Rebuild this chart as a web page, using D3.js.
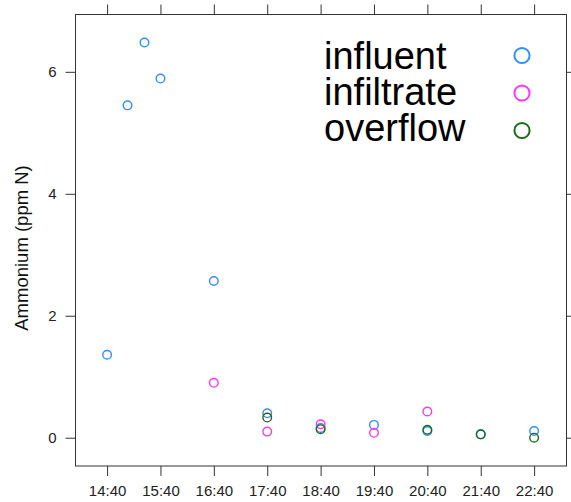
<!DOCTYPE html>
<html>
<head>
<meta charset="utf-8">
<script src="https://cdn.jsdelivr.net/npm/d3@7"></script>
<style>
  html, body { margin: 0; padding: 0; background: #fff; }
  svg { display: block; font-family: "Liberation Sans", Arial, Helvetica, sans-serif; }
</style>
</head>
<body>
<svg id="chart" width="571" height="502"></svg>
<script>
// ---- data ----
const seriesNames = ["influent", "infiltrate", "overflow"];
const seriesColors = ["#2f8fff", "#ff33ff", "#1a6b1a"];

const influentTimes  = ["14:40", "15:03", "15:22", "15:40", "16:40", "17:40", "18:40", "19:40", "20:40", "21:40", "22:40"];
const influentValues = [1.36, 5.45, 6.48, 5.89, 2.57, 0.40, 0.16, 0.21, 0.11, 0.055, 0.11];

const infiltrateTimes  = ["16:40", "17:40", "18:40", "19:40", "20:40"];
const infiltrateValues = [0.90, 0.10, 0.22, 0.08, 0.43];

const overflowTimes  = ["17:40", "18:40", "20:40", "21:40", "22:40"];
const overflowValues = [0.33, 0.14, 0.13, 0.055, 0.0];

const xTickLabels = ["14:40", "15:40", "16:40", "17:40", "18:40", "19:40", "20:40", "21:40", "22:40"];
const yTicks = [0, 2, 4, 6];
const yLabel = "Ammonium (ppm N)";

// ---- helpers ----
const toMin = s => { const [h, m] = s.split(":").map(Number); return h * 60 + m; };

const svg = d3.select("#chart");
const panel = { left: 75.5, right: 566.5, top: 14.5, bottom: 466 };

const x = d3.scaleLinear().domain([toMin("14:04") + 0.5, toMin("23:16") + 0.4]).range([panel.left, panel.right]);
const y = d3.scaleLinear().domain([-0.464, 6.94]).range([panel.bottom, panel.top]);

const axisCol = "#333";
const tickLen = 10;

// frame
svg.append("rect")
  .attr("x", panel.left).attr("y", panel.top)
  .attr("width", panel.right - panel.left).attr("height", panel.bottom - panel.top)
  .attr("fill", "none").attr("stroke", axisCol).attr("stroke-width", 1);

const xt = xTickLabels.map(toMin);

const gBottom = svg.append("g").attr("transform", `translate(0,${panel.bottom})`)
  .call(d3.axisBottom(x).tickValues(xt).tickFormat((d, i) => xTickLabels[i]).tickSizeInner(tickLen).tickSizeOuter(0).tickPadding(9));
const gTop = svg.append("g").attr("transform", `translate(0,${panel.top})`)
  .call(d3.axisTop(x).tickValues(xt).tickFormat("").tickSizeInner(tickLen).tickSizeOuter(0));
const gLeft = svg.append("g").attr("transform", `translate(${panel.left},0)`)
  .call(d3.axisLeft(y).tickValues(yTicks).tickFormat(d3.format("d")).tickSizeInner(tickLen).tickSizeOuter(0).tickPadding(9));
const gRight = svg.append("g").attr("transform", `translate(${panel.right},0)`)
  .call(d3.axisRight(y).tickValues(yTicks).tickFormat("").tickSizeInner(tickLen).tickSizeOuter(0));

[gBottom, gTop, gLeft, gRight].forEach(g => {
  g.select(".domain").remove();
  g.selectAll(".tick line").attr("stroke", axisCol).attr("stroke-width", 1);
  g.selectAll(".tick text").attr("fill", "#222").style("font-size", "15px")
    .style("font-family", "'Liberation Sans', Arial, Helvetica, sans-serif");
});

// y label
svg.append("text")
  .attr("transform", `translate(28,248) rotate(-90)`)
  .attr("text-anchor", "middle")
  .attr("fill", "#111")
  .style("font-size", "18.5px")
  .text(yLabel);

// points
const series = [
  { times: influentTimes, values: influentValues },
  { times: infiltrateTimes, values: infiltrateValues },
  { times: overflowTimes, values: overflowValues }
];

series.forEach((s, si) => {
  svg.append("g").selectAll("circle")
    .data(s.times.map((t, i) => ({ t: toMin(t), v: s.values[i] })))
    .join("circle")
    .attr("cx", d => x(d.t))
    .attr("cy", d => y(d.v))
    .attr("r", 4.3)
    .attr("fill", "none")
    .attr("stroke", seriesColors[si])
    .attr("stroke-width", 1.4);
});

// legend
const legend = svg.append("g");
seriesNames.forEach((name, i) => {
  legend.append("text")
    .attr("x", 324)
    .attr("y", 69 + i * 36.2)
    .attr("fill", "#000")
    .style("font-size", "38px")
    .text(name);
  legend.append("circle")
    .attr("cx", 522)
    .attr("cy", 55.5 + i * 37.5)
    .attr("r", 7.6)
    .attr("fill", "none")
    .attr("stroke", seriesColors[i])
    .attr("stroke-width", 2);
});
</script>
</body>
</html>
